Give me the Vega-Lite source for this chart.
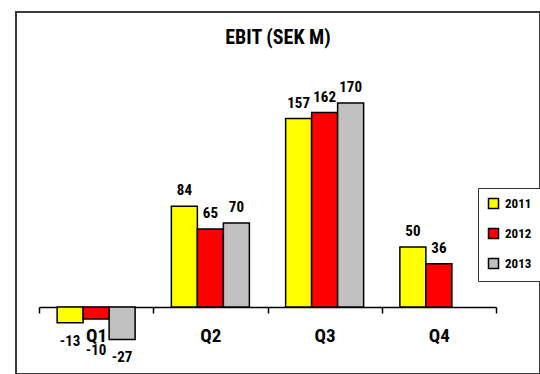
{
  "$schema": "https://vega.github.io/schema/vega-lite/v6.json",
  "width": 524,
  "height": 362,
  "autosize": {"type": "none"},
  "padding": {"left": 16, "top": 12, "right": 0, "bottom": 0},
  "background": "white",
  "config": {
    "view": {"stroke": "#3a3a3a", "strokeWidth": 2},
    "font": "Roboto Condensed, Liberation Sans Narrow, Roboto"
  },
  "title": {
    "text": "EBIT (SEK M)",
    "fontSize": 20,
    "fontWeight": "bold",
    "color": "black",
    "offset": -52,
    "baseline": "alphabetic",
    "anchor": "middle"
  },
  "data": {
    "values": [
      {"quarter": "Q1", "year": "2011", "value": -13},
      {"quarter": "Q1", "year": "2012", "value": -10},
      {"quarter": "Q1", "year": "2013", "value": -27},
      {"quarter": "Q2", "year": "2011", "value": 84},
      {"quarter": "Q2", "year": "2012", "value": 65},
      {"quarter": "Q2", "year": "2013", "value": 70},
      {"quarter": "Q3", "year": "2011", "value": 157},
      {"quarter": "Q3", "year": "2012", "value": 162},
      {"quarter": "Q3", "year": "2013", "value": 170},
      {"quarter": "Q4", "year": "2011", "value": 50},
      {"quarter": "Q4", "year": "2012", "value": 36}
    ]
  },
  "encoding": {
    "x": {
      "field": "quarter",
      "type": "nominal",
      "scale": {"range": [23, 480], "paddingInner": 0, "paddingOuter": 0},
      "axis": {
        "title": null,
        "orient": "bottom",
        "offset": -67,
        "domainColor": "black",
        "domainWidth": 1.5,
        "tickColor": "black",
        "tickWidth": 1.5,
        "tickSize": 6,
        "tickBand": "extent",
        "labelFontSize": 19,
        "labelFontWeight": "bold",
        "labelColor": "black",
        "labelPadding": 13,
        "labelAngle": 0
      }
    },
    "xOffset": {
      "field": "year",
      "type": "nominal",
      "scale": {"domain": ["2011", "2012", "2013"], "paddingInner": 0, "paddingOuter": 0.697}
    },
    "y": {
      "field": "value",
      "type": "quantitative",
      "scale": {"domain": [-55.8, 245.8], "nice": false},
      "axis": null
    }
  },
  "layer": [
    {
      "mark": {"type": "bar", "stroke": "black", "strokeWidth": 1.5},
      "encoding": {
        "y2": {"datum": 0},
        "color": {
          "field": "year",
          "type": "nominal",
          "scale": {"domain": ["2011", "2012", "2013"], "range": ["#FFFF00", "#FF0000", "#C0C0C0"]},
          "legend": {
            "title": null,
            "orient": "none",
            "legendX": 462,
            "legendY": 176,
            "strokeColor": "#333333",
            "fillColor": "white",
            "padding": 9,
            "rowPadding": 13,
            "symbolType": "square",
            "symbolSize": 100,
            "symbolStrokeColor": "black",
            "symbolStrokeWidth": 1.5,
            "symbolOpacity": 1,
            "labelFontSize": 13,
            "labelFontWeight": "bold",
            "labelColor": "black",
            "labelOffset": 5
          }
        }
      }
    },
    {
      "transform": [{"filter": "datum.value >= 0"}],
      "mark": {"type": "text", "dy": -11, "baseline": "alphabetic", "fontSize": 15, "fontWeight": "bold", "color": "black"},
      "encoding": {"text": {"field": "value", "type": "nominal"}}
    },
    {
      "transform": [{"filter": "datum.value < 0"}],
      "mark": {"type": "text", "dy": {"expr": "datum.year === '2012' ? 36 : 23"}, "baseline": "alphabetic", "fontSize": 15, "fontWeight": "bold", "color": "black"},
      "encoding": {"text": {"field": "value", "type": "nominal"}}
    }
  ]
}
